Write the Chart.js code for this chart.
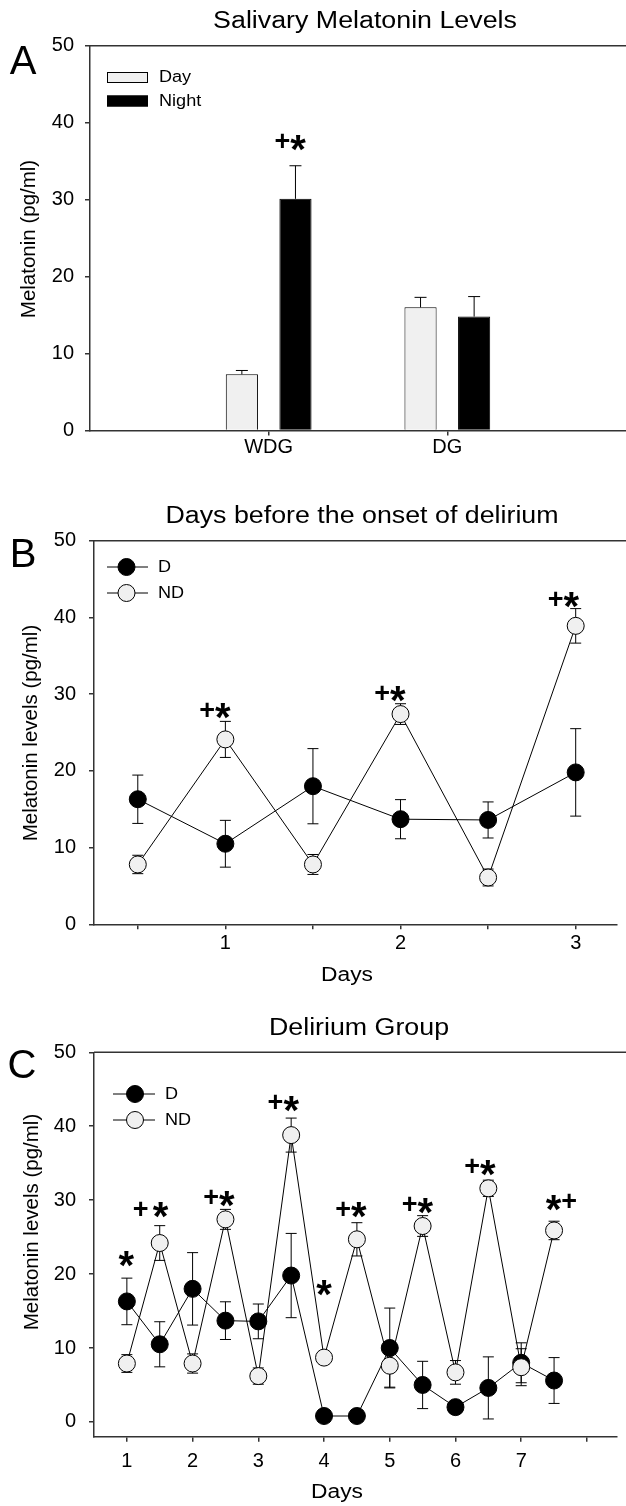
<!DOCTYPE html>
<html>
<head>
<meta charset="utf-8">
<script src="https://cdn.jsdelivr.net/npm/chart.js@4.4.0/dist/chart.umd.min.js"></script>
<style>
html,body{margin:0;padding:0;background:#fff;}
#wrap{position:relative;width:626px;height:1506px;overflow:hidden;background:#fff;}
canvas{position:absolute;left:0;}
</style>
</head>
<body>
<div id="wrap">
<canvas id="cA" width="626" height="480" style="top:0px;width:626px;height:480px"></canvas>
<canvas id="cB" width="626" height="520" style="top:480px;width:626px;height:520px"></canvas>
<canvas id="cC" width="626" height="506" style="top:1000px;width:626px;height:506px"></canvas>
</div>
<script>
// ---------------- Panel A data ----------------
const groupLabels = ['WDG', 'DG'];
const dayMeans = [7.3, 16.0];
const dayErr = [0.5, 1.3];
const nightMeans = [30.1, 14.8];
const nightErr = [4.3, 2.6];
const yTicks = [0, 10, 20, 30, 40, 50];
const annotA = [{x: 1.12, y: 37.5, t: '+*'}];

// ---------------- Panel B data ----------------
const daysB = [0.5, 1, 1.5, 2, 2.5, 3];
const tickLabelsB = ['', '1', '', '2', '', '3'];
const dMeansB = [16.3, 10.5, 18.0, 13.7, 13.6, 19.8];
const dErrB = [3.15, 3.05, 4.9, 2.55, 2.35, 5.7];
const ndMeansB = [7.8, 24.1, 7.8, 27.4, 6.1, 38.9];
const ndErrB = [1.2, 2.35, 1.3, 1.35, 1.1, 2.25];
const annotB = [{x: 0.94, y: 27.9, t: '+*'}, {x: 1.94, y: 30.1, t: '+*'}, {x: 2.93, y: 42.4, t: '+*'}];

// ---------------- Panel C data ----------------
const daysC = [1, 1.5, 2, 2.5, 3, 3.5, 4, 4.5, 5, 5.5, 6, 6.5, 7, 7.5];
const tickValsC = [1, 2, 3, 4, 5, 6, 7, 8];
const tickLabelsC = ['1', '2', '3', '4', '5', '6', '7', ''];
const dMeansC = [16.3, 10.5, 18.0, 13.7, 13.6, 19.8, 0.8, 0.8, 10.0, 5.0, 2.0, 4.6, 8.0, 5.6];
const dErrC = [3.15, 3.05, 4.9, 2.55, 2.35, 5.7, 0, 0, 5.4, 3.2, 0, 4.2, 2.7, 3.1];
const ndMeansC = [7.9, 24.2, 7.9, 27.4, 6.2, 38.8, 8.7, 24.7, 7.6, 26.5, 6.7, 31.6, 7.4, 25.9];
const ndErrC = [1.2, 2.35, 1.3, 1.35, 1.1, 2.3, 0, 2.25, 2.9, 1.4, 1.6, 1.1, 2.5, 1.25];
const annotC = [
  {x: 0.99, y: 22.2, t: '*'}, {x: 1.36, y: 28.8, t: '+ *'}, {x: 2.40, y: 30.3, t: '+*'},
  {x: 3.38, y: 43.2, t: '+*'}, {x: 4.0, y: 18.3, t: '*'}, {x: 4.41, y: 28.8, t: '+*'},
  {x: 5.42, y: 29.4, t: '+*'}, {x: 6.37, y: 34.5, t: '+*'}, {x: 7.61, y: 29.8, t: '*+'}
];

const FONT = '"Liberation Sans", Arial, Helvetica, sans-serif';
const AXIS_COLOR = '#333';
const LIGHT = '#f0f0f0';

function drawText(ctx, s, x, y, o) {
  ctx.save();
  ctx.font = o.font;
  ctx.fillStyle = '#000';
  ctx.textAlign = o.align || 'center';
  ctx.textBaseline = o.baseline || 'middle';
  ctx.translate(x, y);
  if (o.rot) ctx.rotate(o.rot);
  ctx.scale(o.sx || 1, 1);
  ctx.fillText(s, 0, 0);
  ctx.restore();
}

function drawAnnot(ctx, a, xs, ys) {
  const px = xs.getPixelForValue(a.x);
  const py = ys.getPixelForValue(a.y);
  const parts = [...a.t].map(ch => ({
    ch,
    font: ch === '*' ? 'bold 40px ' + FONT : (ch === '+' ? 'bold 27px ' + FONT : 'bold 16px ' + FONT),
    dy: ch === '*' ? 1 : -1
  }));
  let total = 0;
  parts.forEach(p => { ctx.font = p.font; const m = ctx.measureText(p.ch); p.w = m.width; p.m = m; total += p.w; });
  let x = px - total / 2;
  ctx.save();
  ctx.fillStyle = '#000';
  ctx.textAlign = 'left';
  ctx.textBaseline = 'alphabetic';
  parts.forEach(p => {
    if (p.ch !== ' ') {
      ctx.font = p.font;
      const asc = p.m.actualBoundingBoxAscent, desc = p.m.actualBoundingBoxDescent;
      const base = py + p.dy + (asc - desc) / 2;
      ctx.fillText(p.ch, x, base);
    }
    x += p.w;
  });
  ctx.restore();
}

const panelCfg = {
  cA: {
    title: 'Salivary Melatonin Levels', titlePos: [365, 22],
    letter: 'A', letterPos: [23, 63],
    yTitle: 'Melatonin (pg/ml)', yTitlePos: [29, 239],
    legend: {type: 'box', x: 107, w: 41, h: 11, y0: 77.5, dy: 23.5, textX: 159},
    annots: annotA, errMode: 'up', cap: 6,
    errs: [[null, ...dayErr, null], [null, ...nightErr, null]]
  },
  cB: {
    title: 'Days before the onset of delirium', titlePos: [362, 37],
    letter: 'B', letterPos: [23, 76],
    yTitle: 'Melatonin levels (pg/ml)', yTitlePos: [31, 253],
    xTitle: 'Days', xTitlePos: [347, 495],
    legend: {type: 'marker', x1: 107, x2: 148, cx: 126.5, y0: 87, dy: 26, textX: 158},
    annots: annotB, errMode: 'both', cap: 5.5,
    errs: [dErrB, ndErrB]
  },
  cC: {
    title: 'Delirium Group', titlePos: [359, 29],
    letter: 'C', letterPos: [22, 67],
    yTitle: 'Melatonin levels (pg/ml)', yTitlePos: [32, 222],
    xTitle: 'Days', xTitlePos: [337, 492],
    legend: {type: 'marker', x1: 113, x2: 155, cx: 135, y0: 94, dy: 26, textX: 165},
    annots: annotC, errMode: 'both', cap: 5.5,
    errs: [dErrC, ndErrC]
  }
};

function yValue(d) { return (d !== null && typeof d === 'object') ? d.y : d; }

function drawErrors(chart, cfg) {
  const ctx = chart.ctx;
  const ys = chart.scales.y;
  ctx.save();
  ctx.strokeStyle = '#000';
  ctx.lineWidth = 1;
  chart.data.datasets.forEach((ds, di) => {
    const meta = chart.getDatasetMeta(di);
    const errs = cfg.errs[di];
    meta.data.forEach((el, i) => {
      const e = errs[i];
      const v = yValue(ds.data[i]);
      if (!e || v === null || v === undefined) return;
      const x = el.x;
      const yt = ys.getPixelForValue(v + e);
      const y0 = ys.getPixelForValue(v);
      const yb = cfg.errMode === 'both' ? ys.getPixelForValue(v - e) : y0;
      ctx.beginPath();
      ctx.moveTo(x, yb); ctx.lineTo(x, yt);
      ctx.moveTo(x - cfg.cap, yt); ctx.lineTo(x + cfg.cap, yt);
      if (cfg.errMode === 'both') { ctx.moveTo(x - cfg.cap, yb); ctx.lineTo(x + cfg.cap, yb); }
      ctx.stroke();
    });
  });
  ctx.restore();
}

const decor = {
  id: 'decor',
  beforeDatasetsDraw(chart) {
    const cfg = panelCfg[chart.canvas.id];
    if (cfg.errMode === 'both') drawErrors(chart, cfg);
  },
  afterDatasetsDraw(chart) {
    const cfg = panelCfg[chart.canvas.id];
    if (cfg.errMode === 'up') drawErrors(chart, cfg);
  },
  afterDraw(chart) {
    const cfg = panelCfg[chart.canvas.id];
    const ctx = chart.ctx;
    const ca = chart.chartArea;
    // top frame line
    ctx.save();
    ctx.strokeStyle = AXIS_COLOR;
    ctx.lineWidth = 1.5;
    ctx.beginPath();
    ctx.moveTo(ca.left, ca.top); ctx.lineTo(chart.width, ca.top);
    ctx.stroke();
    ctx.restore();
    // titles and letters
    drawText(ctx, cfg.title, cfg.titlePos[0], cfg.titlePos[1], {font: '23.5px ' + FONT, sx: 1.14});
    drawText(ctx, cfg.letter, cfg.letterPos[0], cfg.letterPos[1], {font: '40px ' + FONT});
    drawText(ctx, cfg.yTitle, cfg.yTitlePos[0], cfg.yTitlePos[1], {font: '20.5px ' + FONT, rot: -Math.PI / 2});
    if (cfg.xTitle) drawText(ctx, cfg.xTitle, cfg.xTitlePos[0], cfg.xTitlePos[1], {font: '20px ' + FONT, sx: 1.14});
    // legend
    const lg = cfg.legend;
    chart.data.datasets.forEach((ds, i) => {
      const y = lg.y0 + i * lg.dy;
      ctx.save();
      if (lg.type === 'box') {
        ctx.fillStyle = ds.backgroundColor;
        ctx.fillRect(lg.x, y - lg.h / 2, lg.w, lg.h);
        ctx.strokeStyle = '#000';
        ctx.lineWidth = 1;
        ctx.strokeRect(lg.x + 0.5, y - lg.h / 2 + 0.5, lg.w - 1, lg.h - 1);
      } else {
        ctx.strokeStyle = '#000';
        ctx.lineWidth = 1;
        ctx.beginPath(); ctx.moveTo(lg.x1, y); ctx.lineTo(lg.x2, y); ctx.stroke();
        ctx.beginPath(); ctx.arc(lg.cx, y, 8.5, 0, Math.PI * 2);
        ctx.fillStyle = ds.pointBackgroundColor; ctx.fill(); ctx.stroke();
      }
      ctx.restore();
      drawText(ctx, ds.label, lg.textX, y + 0.5, {font: '16px ' + FONT, align: 'left', sx: 1.13});
    });
    // significance marks
    cfg.annots.forEach(a => drawAnnot(ctx, a, chart.scales.x, chart.scales.y));
  }
};

function yScale(minV, padding, width) {
  return {
    type: 'linear', min: minV, max: 50,
    afterBuildTicks: s => { s.ticks = yTicks.map(v => ({value: v})); },
    afterFit: s => { s.width = width; },
    grid: {display: true, drawOnChartArea: false, drawTicks: true, tickLength: 5, color: AXIS_COLOR, lineWidth: 1.5},
    border: {display: true, color: AXIS_COLOR, width: 1.5},
    ticks: {font: {family: FONT, size: 20}, color: '#000', padding: padding}
  };
}

function lineDataset(label, xs, ys, fill, order) {
  return {
    label: label,
    data: xs.map((x, i) => ({x: x, y: ys[i]})),
    borderColor: '#000', borderWidth: 1, tension: 0, fill: false, showLine: true,
    pointStyle: 'circle', pointRadius: 8.5, pointHoverRadius: 8.5,
    pointBackgroundColor: fill, pointBorderColor: '#000', pointBorderWidth: 1,
    order: order, clip: false
  };
}

// ---------------- Chart A ----------------
new Chart(document.getElementById('cA'), {
  type: 'bar',
  data: {
    labels: ['', ...groupLabels, ''],
    datasets: [
      {label: 'Day', data: [null, ...dayMeans, null], backgroundColor: LIGHT, borderColor: '#000', borderWidth: 1,
       categoryPercentage: 0.6, barPercentage: 0.6},
      {label: 'Night', data: [null, ...nightMeans, null], backgroundColor: '#000', borderColor: '#000', borderWidth: 1,
       categoryPercentage: 0.6, barPercentage: 0.6}
    ]
  },
  options: {
    responsive: false, animation: false, events: [],
    layout: {padding: {top: 45.7, left: 0, right: 0, bottom: 0}},
    plugins: {legend: {display: false}, tooltip: {enabled: false}, title: {display: false}},
    scales: {
      x: {
        type: 'category', offset: false,
        afterBuildTicks: s => { s.ticks = s.ticks.filter(t => t.value >= 1 && t.value <= groupLabels.length); },
        afterFit: s => { s.height = 480 - 430.5; },
        grid: {display: true, offset: false, drawOnChartArea: false, drawTicks: true, tickLength: 5, color: AXIS_COLOR, lineWidth: 1.5},
        border: {display: true, color: AXIS_COLOR, width: 1.5},
        ticks: {font: {family: FONT, size: 20}, color: '#000', padding: 0, maxRotation: 0, autoSkip: false}
      },
      y: yScale(0, 11, 90)
    }
  },
  plugins: [decor]
});

// ---------------- Chart B ----------------
new Chart(document.getElementById('cB'), {
  type: 'line',
  data: {
    datasets: [
      lineDataset('D', daysB, dMeansB, '#000', 1),
      lineDataset('ND', daysB, ndMeansB, LIGHT, 0)
    ]
  },
  options: {
    responsive: false, animation: false, events: [],
    layout: {padding: {top: 60.7, left: 0, right: 0, bottom: 0}},
    plugins: {legend: {display: false}, tooltip: {enabled: false}, title: {display: false}},
    scales: {
      x: {
        type: 'linear', min: 0.25, max: 3.233,
        afterBuildTicks: s => { s.ticks = daysB.map(v => ({value: v})); },
        afterFit: s => { s.height = 520 - 444.3; },
        grid: {display: true, drawOnChartArea: false, drawTicks: true, tickLength: 5, color: AXIS_COLOR, lineWidth: 1.5},
        border: {display: true, color: AXIS_COLOR, width: 1.5},
        ticks: {font: {family: FONT, size: 20}, color: '#000', padding: 2, maxRotation: 0, autoSkip: false,
                callback: (v, i) => tickLabelsB[i]}
      },
      y: yScale(0, 13, 94)
    }
  },
  plugins: [decor]
});

// ---------------- Chart C ----------------
new Chart(document.getElementById('cC'), {
  type: 'line',
  data: {
    datasets: [
      lineDataset('D', daysC, dMeansC, '#000', 1),
      lineDataset('ND', daysC, ndMeansC, LIGHT, 0)
    ]
  },
  options: {
    responsive: false, animation: false, events: [],
    layout: {padding: {top: 52.3, left: 0, right: 0, bottom: 0}},
    plugins: {legend: {display: false}, tooltip: {enabled: false}, title: {display: false}},
    scales: {
      x: {
        type: 'linear', min: 0.5, max: 8.45,
        afterBuildTicks: s => { s.ticks = tickValsC.map(v => ({value: v})); },
        afterFit: s => { s.height = 506 - 436.7; },
        grid: {display: true, drawOnChartArea: false, drawTicks: true, tickLength: 5, color: AXIS_COLOR, lineWidth: 1.5},
        border: {display: true, color: AXIS_COLOR, width: 1.5},
        ticks: {font: {family: FONT, size: 20}, color: '#000', padding: 8, maxRotation: 0, autoSkip: false,
                callback: (v, i) => tickLabelsC[i]}
      },
      y: yScale(-2, 13, 94)
    }
  },
  plugins: [decor]
});
</script>
</body>
</html>
